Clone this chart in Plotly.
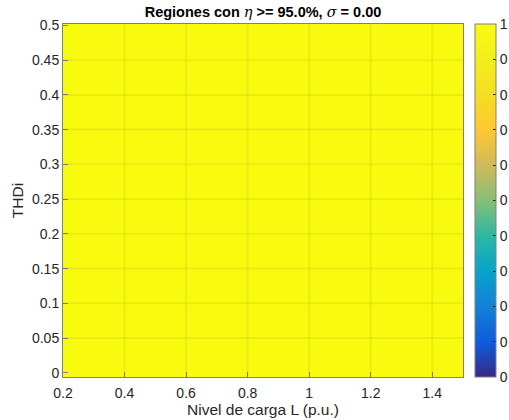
import numpy as np
import plotly.graph_objects as go

# Data
load_levels = [0.2, 0.3, 0.4, 0.5, 0.6, 0.7, 0.8, 0.9, 1.0, 1.1, 1.2, 1.3, 1.4, 1.5]
thdi_levels = [0.0, 0.05, 0.1, 0.15, 0.2, 0.25, 0.3, 0.35, 0.4, 0.45, 0.5]
region = [[1] * len(load_levels) for _ in thdi_levels]  # all points meet eta >= 95%

x_ticks = [0.2, 0.4, 0.6, 0.8, 1.0, 1.2, 1.4]
x_ticktext = ["0.2", "0.4", "0.6", "0.8", "1", "1.2", "1.4"]
y_ticks = [0, 0.05, 0.1, 0.15, 0.2, 0.25, 0.3, 0.35, 0.4, 0.45, 0.5]
y_ticktext = ["0", "0.05", "0.1", "0.15", "0.2", "0.25", "0.3", "0.35", "0.4", "0.45", "0.5"]
cb_ticks = [0, 0.1, 0.2, 0.3, 0.4, 0.5, 0.6, 0.7, 0.8, 0.9, 1.0]
cb_ticktext = ["0", "0", "0", "0", "0", "0", "0", "0", "0", "0", "1"]

parula = [
    [0.0, "#352A87"], [0.1, "#0F5CDD"], [0.2, "#1481D6"], [0.3, "#06A4CA"],
    [0.4, "#2EB7A4"], [0.5, "#87BF77"], [0.6, "#D1BB59"], [0.7, "#FEC832"],
    [0.8, "#F5DE21"], [0.9, "#F3EF1B"], [1.0, "#F9FB0E"],
]

FONT = "Liberation Sans, Arial, Helvetica, sans-serif"
GRID = "rgba(38,38,38,0.07)"

fig = go.Figure()
fig.add_trace(go.Heatmap(
    x=load_levels, y=thdi_levels, z=region,
    zmin=0, zmax=1, colorscale=parula, showscale=True,
    colorbar=dict(
        x=1.03, xanchor="left", xpad=0, y=0.5, yanchor="middle", ypad=0,
        len=1, lenmode="fraction", thickness=21, thicknessmode="pixels",
        tickvals=cb_ticks, ticktext=cb_ticktext, ticks="inside", ticklen=3,
        tickcolor="#262626", outlinecolor="#808080", outlinewidth=1,
        tickfont=dict(family=FONT, size=14, color="#262626"),
    ),
))

# grid lines above the image (MATLAB draws the grid on top)
shapes = []
for xv in x_ticks[1:]:
    shapes.append(dict(type="line", xref="x", yref="paper", x0=xv, x1=xv, y0=0, y1=1,
                       line=dict(color=GRID, width=2), layer="above"))
for yv in y_ticks[1:-1]:
    shapes.append(dict(type="line", xref="paper", yref="y", x0=0, x1=1, y0=yv, y1=yv,
                       line=dict(color=GRID, width=2), layer="above"))

SYM = "<span style='font-family:DejaVu Serif, serif;font-weight:normal'><i>%s</i></span>"

fig.update_layout(
    width=509, height=420,
    margin=dict(l=63, r=46, t=24, b=43, autoexpand=False),
    paper_bgcolor="white", plot_bgcolor="white",
    font=dict(family=FONT, size=14, color="#262626"),
    title=dict(
        text="<b>Regiones con " + SYM % "η" + " >= 95.0%, " + SYM % "σ" + " = 0.00</b>",
        x=0.5, xref="paper", xanchor="center", y=0.983, yref="container", yanchor="top", pad=dict(t=0),
        font=dict(family=FONT, size=14.5, color="black"),
    ),
    shapes=shapes,
    xaxis=dict(
        range=[0.2, 1.5], tickvals=x_ticks, ticktext=x_ticktext,
        showgrid=False, zeroline=False, ticks="inside", ticklen=5, tickcolor="#808080",
        showline=True, linecolor="#808080", linewidth=1, mirror=True,
        tickfont=dict(size=14), layer="above traces", ticklabelstandoff=3,
        title=dict(text="Nivel de carga L (p.u.)", font=dict(size=15.5), standoff=0),
    ),
    yaxis=dict(
        range=[-0.006, 0.502], tickvals=y_ticks, ticktext=y_ticktext,
        showgrid=False, zeroline=False, ticks="inside", ticklen=5, tickcolor="#808080",
        showline=True, linecolor="#808080", linewidth=1, mirror=True,
        tickfont=dict(size=14), layer="above traces",
        title=dict(text="THDi", font=dict(size=15.5), standoff=4),
    ),
)

fig.write_html("out.html", config={"displayModeBar": False},
               post_script="document.body.style.margin='0';")
